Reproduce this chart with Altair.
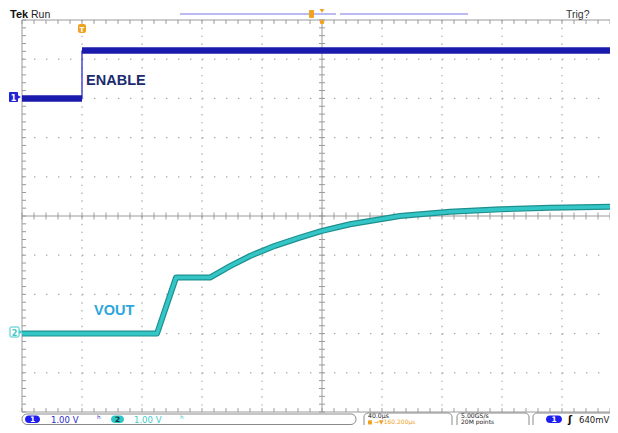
import altair as alt
import numpy as np
import pandas as pd

# ---------------- readings from the screenshot ----------------
# time in microseconds relative to trigger (40 us/div), window as shown
T0, T1 = -40.0, 357.33
US_PER_DIV = 40.0
VOLTS_PER_DIV = 1.0
ch1_offset = 8.0     # ground marker position, divisions from bottom
ch2_offset = 2.0

ch1_t = [-40.0, 0.0, 0.0, 357.33]
ch1_v = [0.00, 0.00, 1.22, 1.22]

ch2_t = [-40.0, 50.0, 62.7, 85.3, 98.7, 112.0, 128.7, 145.3, 160.0, 178.7,
         212.0, 245.3, 278.7, 312.0, 357.33]
ch2_v = [0.00, 0.00, 1.43, 1.43, 1.72, 1.98, 2.24, 2.45, 2.62, 2.79,
         3.00, 3.11, 3.17, 3.21, 3.24]

trace_labels = ["ENABLE", "VOUT"]
label_t = [2.7, 8.0]
label_v = [0.34, 0.47]

# ---------------- colours ----------------
C_CH1 = "#1a1aac"
C_CH1_EDGE = "#4646d2"
C_CH2_DARK = "#1e8f8f"
C_CH2 = "#34c6c6"
C_GRID = "#a9a9a9"
C_FRAME = "#9a9a9a"
C_ORANGE = "#f0a323"
C_ENABLE = "#1b2b6e"
C_VOUT = "#2ca6dc"

W, H = 596, 392

xs = alt.Scale(domain=[T0, T1], nice=False, zero=False)
ys = alt.Scale(domain=[0, 10], nice=False, zero=False)


def X(f):
    return alt.X(f, type="quantitative", scale=xs, axis=None)


def X2(f):
    return alt.X2(f)


def Y(f):
    return alt.Y(f, type="quantitative", scale=ys, axis=None)


def Y2(f):
    return alt.Y2(f)


layers = []

# ---------------- graticule ----------------
major_t = [T0 + US_PER_DIV * k for k in range(1, 10) if k != 5]
gv = pd.DataFrame({"t": major_t, "y0": 10.0, "y1": 0.0})
layers.append(alt.Chart(gv).mark_rule(color=C_GRID, strokeWidth=1.2, strokeDash=[1.4, 6.44])
              .encode(x=X("t"), y=Y("y0"), y2=Y2("y1")))

gh = pd.DataFrame({"y": [1, 2, 3, 4, 6, 7, 8, 9], "t0": T0, "t1": T1})
layers.append(alt.Chart(gh).mark_rule(color=C_GRID, strokeWidth=1.2, strokeDash=[1.4, 10.6])
              .encode(x=X("t0"), x2=X2("t1"), y=Y("y")))

frame = pd.DataFrame({
    "x0": [T0, T0, T0, 160.0, T0],
    "x1": [T0, T1, T1, 160.0, T1],
    "y0": [0.0, 10.0, 0.0, 0.0, 5.0],
    "y1": [10.0, 10.0, 0.0, 10.0, 5.0],
})
layers.append(alt.Chart(frame).mark_rule(color=C_FRAME, strokeWidth=1)
              .encode(x=X("x0"), x2=X2("x1"), y=Y("y0"), y2=Y2("y1")))

minor_t = np.arange(T0, T1 + 0.01, US_PER_DIV / 5)
minor_y = np.arange(0, 10.001, 0.2)
tk = []
for t in minor_t:
    tk.append((t, t, 4.91, 5.09))      # centre horizontal line
    tk.append((t, t, 10.0, 9.9))       # top border
    tk.append((t, t, 0.0, 0.1))        # bottom border
for y in minor_y:
    tk.append((158.0, 162.0, y, y))    # centre vertical line
    tk.append((T0, T0 + 2.7, y, y))    # left border
ticks = pd.DataFrame(tk, columns=["x0", "x1", "y0", "y1"])
layers.append(alt.Chart(ticks).mark_rule(color=C_FRAME, strokeWidth=1)
              .encode(x=X("x0"), x2=X2("x1"), y=Y("y0"), y2=Y2("y1")))

# ---------------- channel 1 (ENABLE) ----------------
seg_thick, seg_edge = [], []
for i in range(len(ch1_t) - 1):
    row = (ch1_t[i], ch1_t[i + 1],
           ch1_offset + ch1_v[i] / VOLTS_PER_DIV,
           ch1_offset + ch1_v[i + 1] / VOLTS_PER_DIV)
    (seg_edge if ch1_t[i] == ch1_t[i + 1] else seg_thick).append(row)
thick = pd.DataFrame(seg_thick, columns=["x0", "x1", "y0", "y1"])
edge = pd.DataFrame(seg_edge, columns=["x0", "x1", "y0", "y1"])
layers.append(alt.Chart(edge).mark_rule(color=C_CH1_EDGE, strokeWidth=1.5)
              .encode(x=X("x0"), x2=X2("x1"), y=Y("y0"), y2=Y2("y1")))
layers.append(alt.Chart(thick).mark_rule(color=C_CH1, strokeWidth=6.5, strokeCap="butt")
              .encode(x=X("x0"), x2=X2("x1"), y=Y("y0"), y2=Y2("y1")))

# ---------------- channel 2 (VOUT) ----------------
ch2 = pd.DataFrame({"t": ch2_t, "v": ch2_v})
ch2["y"] = ch2_offset + ch2["v"] / VOLTS_PER_DIV
ch2["o"] = range(len(ch2))
layers.append(alt.Chart(ch2).mark_line(color=C_CH2_DARK, strokeWidth=6, strokeJoin="round")
              .encode(x=X("t"), y=Y("y"), order="o:Q"))
layers.append(alt.Chart(ch2).mark_line(color=C_CH2, strokeWidth=3.6, strokeJoin="round")
              .encode(x=X("t"), y=Y("y"), order="o:Q"))

# ---------------- trace labels ----------------
lab = pd.DataFrame({
    "name": trace_labels,
    "t": label_t,
    "y": [ch1_offset + label_v[0], ch2_offset + label_v[1]],
    "c": [C_ENABLE, C_VOUT],
})
layers.append(alt.Chart(lab).mark_text(align="left", baseline="alphabetic", fontSize=14.5,
                                       fontWeight="bold", font="Liberation Sans")
              .encode(x=X("t"), y=Y("y"), text="name:N",
                      color=alt.Color("c:N", scale=None)))

# ---------------- scope chrome (pixel positions, relative to plot origin) ----------------
one = pd.DataFrame({"k": [0]})


def txt(s, px, py, color="#222222", size=10, weight="normal", font="DejaVu Sans",
        align="left"):
    return (alt.Chart(one)
            .mark_text(text=s, align=align, baseline="alphabetic", fontSize=size,
                       fontWeight=weight, font=font, color=color)
            .encode(x=alt.value(px), y=alt.value(py)))


def box(x0, x1, y0, y1, fill="white", stroke=None, r=0, sw=1):
    kw = dict(fill=fill, cornerRadius=r)
    if stroke:
        kw.update(stroke=stroke, strokeWidth=sw)
    return (alt.Chart(one).mark_rect(**kw)
            .encode(x=alt.value(x0), x2=alt.value(x1), y=alt.value(y0), y2=alt.value(y1)))


def hline(x0, x1, y, color, sw=1.5):
    return (alt.Chart(one).mark_rule(color=color, strokeWidth=sw)
            .encode(x=alt.value(x0), x2=alt.value(x1), y=alt.value(y)))


def pt(px, py, shape, color, size=30):
    return (alt.Chart(one).mark_point(shape=shape, filled=True, color=color, size=size,
                                      opacity=1)
            .encode(x=alt.value(px), y=alt.value(py)))


# top bar
layers.append(txt("Tek", -12, -2, "#111111", 11, "bold", "Liberation Sans"))
layers.append(txt("Run", 9, -2, "#222222", 10.5, "normal", "Liberation Sans"))
layers.append(txt("Trig?", 544, -2, "#333333", 10.5, "normal", "Liberation Sans"))
layers.append(hline(158, 314, -6, "#a5a5f0", 1.5))
layers.append(hline(318, 446, -6, "#a5a5f0", 1.5))
layers.append(box(287, 292, -10, -2, fill=C_ORANGE, r=1))
layers.append(pt(300, -9, "triangle-down", C_ORANGE, 22))
layers.append(pt(300, 2, "circle", C_ORANGE, 22))
# trigger-position marker "T"
layers.append(box(56, 64, 4, 13, fill=C_ORANGE, r=2))
layers.append(txt("T", 60, 11.5, "white", 7, "bold", "DejaVu Sans", "center"))

# channel ground markers
layers.append(box(-13, -4, 72, 82, fill="#2424d8", r=1))
layers.append(pt(-3, 77, "triangle-right", "#2424d8", 20))
layers.append(txt("1", -8.5, 80.5, "white", 8, "bold", "DejaVu Sans", "center"))
layers.append(box(-12, -3, 307, 317, fill="white", stroke="#3cc8c8", r=1))
layers.append(pt(-1, 312, "triangle-right", "#3cc8c8", 16))
layers.append(txt("2", -7.5, 315.5, "#3cc8c8", 8, "bold", "DejaVu Sans", "center"))

# bottom status bar (squeezed into the space the page allows)
layers.append(box(0, 334, 394, 404.5, fill="white", stroke="#8a8a8a", r=5))
layers.append(box(342, 430, 393, 412, fill="white", stroke="#8a8a8a", r=4))
layers.append(box(435, 507, 393, 412, fill="white", stroke="#8a8a8a", r=4))
layers.append(box(511, 600, 393, 412, fill="white", stroke="#8a8a8a", r=4))

layers.append(box(3, 18, 395.5, 403, fill="#1e1ef0", r=4))
layers.append(txt("1", 10.5, 402.3, "white", 7.5, "bold", "DejaVu Sans", "center"))
layers.append(txt("1.00 V", 29, 402.5, "#2a2ad0", 8.5))
layers.append(txt("ʰ", 75, 402, "#2a2ad0", 9))
layers.append(box(89, 102, 395.5, 403, fill="#2cc6c6", r=4))
layers.append(txt("2", 95.5, 402.3, "#113333", 7.5, "bold", "DejaVu Sans", "center"))
layers.append(txt("1.00 V", 112, 402.5, "#40cccc", 8.5))
layers.append(txt("ʰ", 158, 402, "#40cccc", 9))

layers.append(txt("40.0µs", 346, 398.4, "#222222", 6.2))
layers.append(box(346, 350, 400.3, 404.5, fill=C_ORANGE, r=1))
layers.append(txt("→▼160.200µs", 352, 404.3, C_ORANGE, 6.0))
layers.append(txt("5.00GS/s", 439, 398.4, "#222222", 6.2))
layers.append(txt("20M points", 439, 404.3, "#222222", 6.0))
layers.append(box(524, 540, 395.5, 403, fill="#1e1ef0", r=4))
layers.append(txt("1", 532, 402.3, "white", 7.5, "bold", "DejaVu Sans", "center"))
layers.append(txt("ʃ", 546, 402.5, "#111111", 10, "bold", "DejaVu Sans"))
layers.append(txt("640mV", 557, 402.5, "#222222", 8.5))

chart = (alt.layer(*layers)
         .properties(width=W, height=H, background="white",
                     padding={"left": 14, "top": 12, "right": -8, "bottom": 13},
                     autosize=alt.AutoSizeParams(type="none"))
         .configure_view(stroke=None))

chart.save("out.html", embed_options={"renderer": "svg", "actions": False})
